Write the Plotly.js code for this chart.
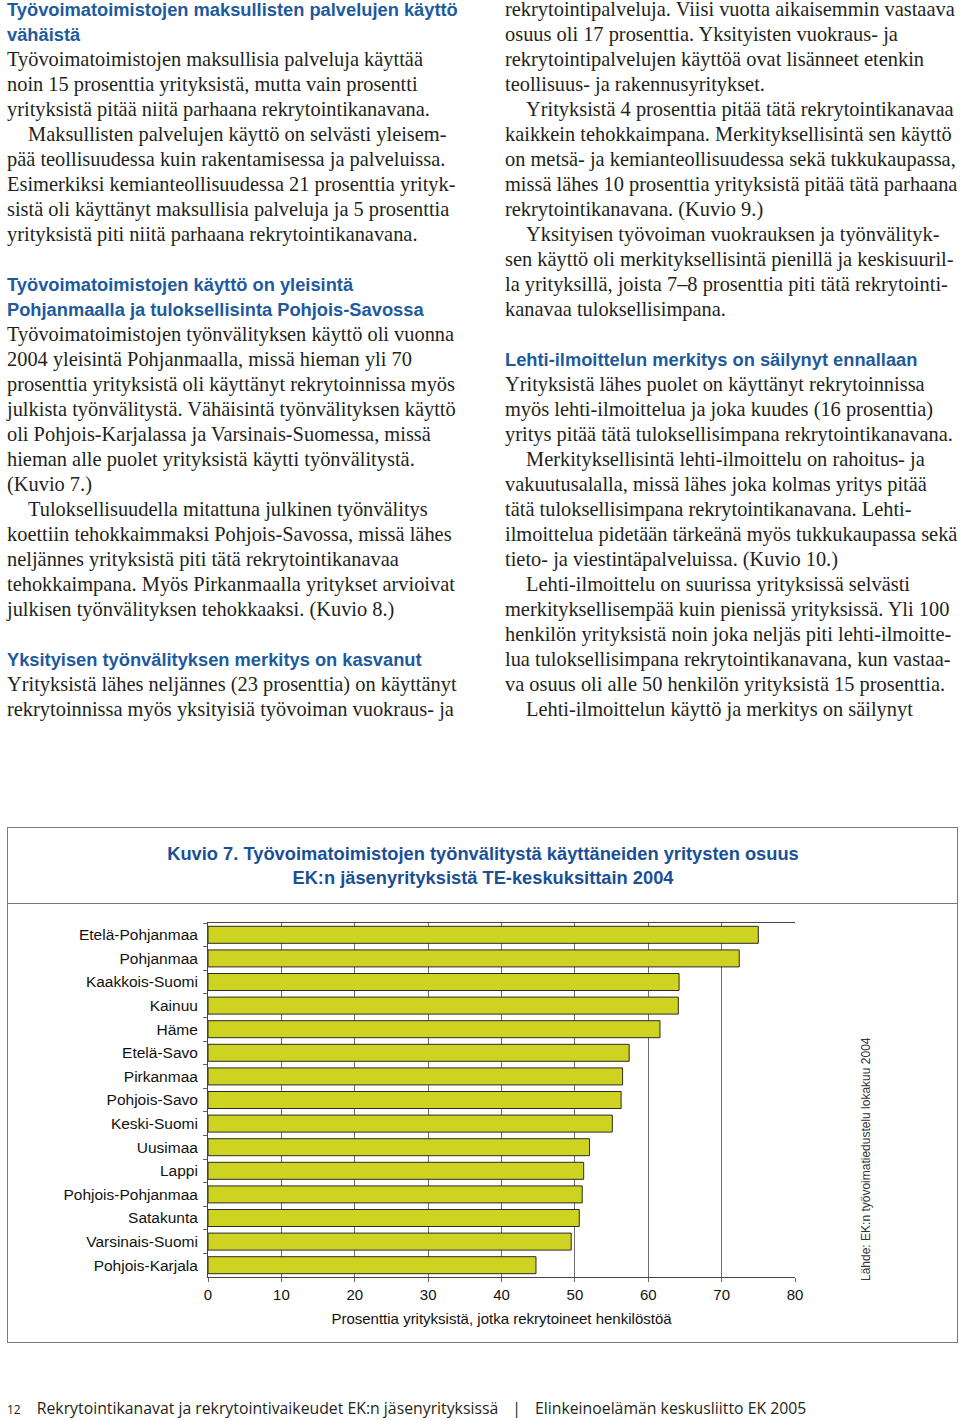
<!DOCTYPE html>
<html>
<head>
<meta charset="utf-8">
<script src="https://cdn.plot.ly/plotly-3.0.1.min.js"></script>
<style>
  html, body { margin:0; padding:0; background:#fff; }
  body { width:960px; height:1421px; position:relative; overflow:hidden; }
  .col { position:absolute; top:-3px; line-height:25px; color:#231f20; }
  .col div { white-space:nowrap; height:25px; }
  .p { font-family:"Liberation Serif","Times New Roman",serif; font-size:20.4px; }
  .i { font-family:"Liberation Serif","Times New Roman",serif; font-size:20.4px; padding-left:21px; }
  .h { font-family:"Liberation Sans",Arial,sans-serif; font-weight:bold; font-size:18.3px; color:#1d5a9e; }
  #box { position:absolute; left:7px; top:827px; width:949px; height:514px; border:1.5px solid #7a7a7a; }
  #sep { position:absolute; left:7px; top:903px; width:951px; height:0; border-top:1.5px solid #7a7a7a; }
  #chart { position:absolute; left:0; top:820px; width:960px; height:530px; }
  #footer { position:absolute; left:7px; top:1397px; font-family:"Open Sans","Noto Sans",sans-serif; font-size:15.8px; color:#231f20; white-space:nowrap; }
</style>
</head>
<body>
<div id="left" class="col" style="left:7px;"></div>
<div id="right" class="col" style="left:505px;"></div>
<div id="box"></div>
<div id="sep"></div>
<div id="chart"></div>
<div id="footer"><span style="font-size:12px;">12</span><span style="display:inline-block;width:16px;"></span>Rekrytointikanavat ja rekrytointivaikeudet EK:n jäsenyrityksissä<span style="display:inline-block;width:14px;"></span>|<span style="display:inline-block;width:14px;"></span>Elinkeinoelämän keskusliitto EK 2005</div>
<script>
// ---- page text ----
var leftLines = [
  ['h','Työvoimatoimistojen maksullisten palvelujen käyttö'],
  ['h','vähäistä'],
  ['p','Työvoimatoimistojen maksullisia palveluja käyttää'],
  ['p','noin 15 prosenttia yrityksistä, mutta vain prosentti'],
  ['p','yrityksistä pitää niitä parhaana rekrytointikanavana.'],
  ['i','Maksullisten palvelujen käyttö on selvästi yleisem-'],
  ['p','pää teollisuudessa kuin rakentamisessa ja palveluissa.'],
  ['p','Esimerkiksi kemianteollisuudessa 21 prosenttia yrityk-'],
  ['p','sistä oli käyttänyt maksullisia palveluja ja 5 prosenttia'],
  ['p','yrityksistä piti niitä parhaana rekrytointikanavana.'],
  ['p',''],
  ['h','Työvoimatoimistojen käyttö on yleisintä'],
  ['h','Pohjanmaalla ja tuloksellisinta Pohjois-Savossa'],
  ['p','Työvoimatoimistojen työnvälityksen käyttö oli vuonna'],
  ['p','2004 yleisintä Pohjanmaalla, missä hieman yli 70'],
  ['p','prosenttia yrityksistä oli käyttänyt rekrytoinnissa myös'],
  ['p','julkista työnvälitystä. Vähäisintä työnvälityksen käyttö'],
  ['p','oli Pohjois-Karjalassa ja Varsinais-Suomessa, missä'],
  ['p','hieman alle puolet yrityksistä käytti työnvälitystä.'],
  ['p','(Kuvio 7.)'],
  ['i','Tuloksellisuudella mitattuna julkinen työnvälitys'],
  ['p','koettiin tehokkaimmaksi Pohjois-Savossa, missä lähes'],
  ['p','neljännes yrityksistä piti tätä rekrytointikanavaa'],
  ['p','tehokkaimpana. Myös Pirkanmaalla yritykset arvioivat'],
  ['p','julkisen työnvälityksen tehokkaaksi. (Kuvio 8.)'],
  ['p',''],
  ['h','Yksityisen työnvälityksen merkitys on kasvanut'],
  ['p','Yrityksistä lähes neljännes (23 prosenttia) on käyttänyt'],
  ['p','rekrytoinnissa myös yksityisiä työvoiman vuokraus- ja']
];
var rightLines = [
  ['p','rekrytointipalveluja. Viisi vuotta aikaisemmin vastaava'],
  ['p','osuus oli 17 prosenttia. Yksityisten vuokraus- ja'],
  ['p','rekrytointipalvelujen käyttöä ovat lisänneet etenkin'],
  ['p','teollisuus- ja rakennusyritykset.'],
  ['i','Yrityksistä 4 prosenttia pitää tätä rekrytointikanavaa'],
  ['p','kaikkein tehokkaimpana. Merkityksellisintä sen käyttö'],
  ['p','on metsä- ja kemianteollisuudessa sekä tukkukaupassa,'],
  ['p','missä lähes 10 prosenttia yrityksistä pitää tätä parhaana'],
  ['p','rekrytointikanavana. (Kuvio 9.)'],
  ['i','Yksityisen työvoiman vuokrauksen ja työnvälityk-'],
  ['p','sen käyttö oli merkityksellisintä pienillä ja keskisuuril-'],
  ['p','la yrityksillä, joista 7–8 prosenttia piti tätä rekrytointi-'],
  ['p','kanavaa tuloksellisimpana.'],
  ['p',''],
  ['h','Lehti-ilmoittelun merkitys on säilynyt ennallaan'],
  ['p','Yrityksistä lähes puolet on käyttänyt rekrytoinnissa'],
  ['p','myös lehti-ilmoittelua ja joka kuudes (16 prosenttia)'],
  ['p','yritys pitää tätä tuloksellisimpana rekrytointikanavana.'],
  ['i','Merkityksellisintä lehti-ilmoittelu on rahoitus- ja'],
  ['p','vakuutusalalla, missä lähes joka kolmas yritys pitää'],
  ['p','tätä tuloksellisimpana rekrytointikanavana. Lehti-'],
  ['p','ilmoittelua pidetään tärkeänä myös tukkukaupassa sekä'],
  ['p','tieto- ja viestintäpalveluissa. (Kuvio 10.)'],
  ['i','Lehti-ilmoittelu on suurissa yrityksissä selvästi'],
  ['p','merkityksellisempää kuin pienissä yrityksissä. Yli 100'],
  ['p','henkilön yrityksistä noin joka neljäs piti lehti-ilmoitte-'],
  ['p','lua tuloksellisimpana rekrytointikanavana, kun vastaa-'],
  ['p','va osuus oli alle 50 henkilön yrityksistä 15 prosenttia.'],
  ['i','Lehti-ilmoittelun käyttö ja merkitys on säilynyt']
];
function fill(id, lines){
  var el = document.getElementById(id);
  lines.forEach(function(l){
    var d = document.createElement('div');
    d.className = l[0];
    d.textContent = l[1];
    el.appendChild(d);
  });
}
fill('left', leftLines);
fill('right', rightLines);

// ---- chart data ----
var regions = ['Etelä-Pohjanmaa','Pohjanmaa','Kaakkois-Suomi','Kainuu','Häme','Etelä-Savo','Pirkanmaa','Pohjois-Savo','Keski-Suomi','Uusimaa','Lappi','Pohjois-Pohjanmaa','Satakunta','Varsinais-Suomi','Pohjois-Karjala'];
var shares = [75.0, 72.4, 64.2, 64.1, 61.6, 57.4, 56.5, 56.3, 55.1, 52.0, 51.2, 51.0, 50.6, 49.5, 44.7];
var xTicks = [0,10,20,30,40,50,60,70,80];

var chartTitle = 'Kuvio 7. Työvoimatoimistojen työnvälitystä käyttäneiden yritysten osuus<br>EK:n jäsenyrityksistä TE-keskuksittain 2004';
var xTitle = 'Prosenttia yrityksistä, jotka rekrytoineet henkilöstöä';
var sourceText = 'Lähde: EK:n työvoimatiedustelu lokakuu 2004';

// geometry (container pixel coords, chart div spans y 820..1350)
var W = 960, H = 530;
var plotL = 208, plotR = 795, plotT = 103, plotB = 457;
function px2paperX(px){ return (px - plotL) / (plotR - plotL); }
function px2paperY(py){ return (plotB - py) / (plotB - plotT); }

var trace = {
  type:'bar', orientation:'h',
  x: shares, y: regions,
  marker:{ color:'#cdd320', line:{ color:'#2b2b2b', width:1 } },
  hoverinfo:'none'
};
var font = "Liberation Sans, Arial, sans-serif";
var layout = {
  width:W, height:H,
  margin:{ l:plotL, r:W-plotR, t:plotT, b:H-plotB, pad:0 },
  paper_bgcolor:'rgba(0,0,0,0)', plot_bgcolor:'rgba(0,0,0,0)',
  showlegend:false,
  bargap:0.28,
  font:{ family:font, size:15, color:'#111' },
  title:{ text:chartTitle, font:{ family:font, size:18.3, color:'#1a4f96', weight:'bold' },
          xref:'container', x:483/W, xanchor:'center', yref:'container', y:1-40/H, yanchor:'middle' },
  xaxis:{ range:[0,80], tickvals:xTicks, ticktext:xTicks.map(String), showgrid:true, gridcolor:'#6e6e6e', gridwidth:1,
          zeroline:false, showline:true, linecolor:'#444', linewidth:1, mirror:true,
          ticks:'outside', ticklen:4, tickcolor:'#666', tickfont:{ family:font, size:15, color:'#111' },
          title:{ text:xTitle, font:{ family:font, size:15, color:'#111' }, standoff:11 }, fixedrange:true },
  yaxis:{ type:'category', autorange:'reversed', showgrid:false, zeroline:false,
          showline:true, linecolor:'#444', linewidth:1,
          ticks:'outside', tickson:'boundaries', ticklen:4, tickcolor:'#666', ticklabelstandoff:6,
          tickfont:{ family:font, size:15.5, color:'#111' }, fixedrange:true },
  annotations:[{
    text:sourceText, textangle:-90, showarrow:false,
    xref:'paper', yref:'paper', x:px2paperX(866), y:px2paperY(1159-820),
    xanchor:'center', yanchor:'middle',
    font:{ family:font, size:12, color:'#333' }
  }]
};
Plotly.newPlot('chart', [trace], layout, { staticPlot:true, displayModeBar:false });
</script>
</body>
</html>
